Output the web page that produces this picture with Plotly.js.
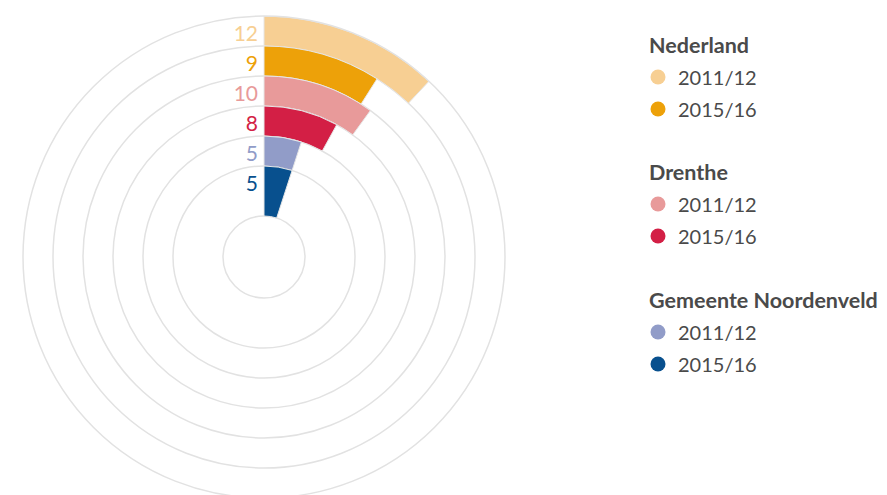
<!DOCTYPE html>
<html><head><meta charset="utf-8">
<script src="https://cdn.plot.ly/plotly-3.0.1.min.js"></script>
<style>html,body{margin:0;padding:0;overflow:hidden;background:#fff}#chart{width:887px;height:500px}</style>
</head><body><div id="chart"></div><script>
// ---- data ----
const regions = ['Nederland', 'Drenthe', 'Gemeente Noordenveld'];
const periods = ['2011/12', '2015/16'];
const nederland = [12, 9];
const drenthe = [10, 8];
const noordenveld = [5, 5];
const colorsNederland = ['#F7CF93', '#EDA109'];
const colorsDrenthe = ['#E89A9A', '#D31F45'];
const colorsNoordenveld = ['#919CC8', '#08508E'];

// ---- layout constants ----
const FULL_SCALE = 100;          // value for a full circle
const OUTER = 241, BAND = 30, HOLE = 41;
const FONT = 'Lato, "Open Sans", sans-serif';
const TXT = '#4a4a4a';
const H = 500;
const LEGEND_X = 638, TITLE_X = 647;
const TITLE_Y = [45, 172, 300];       // px from top, group titles
const ITEM_DY = 32;                    // px between legend rows

const groups = [
  {name: regions[0], vals: nederland, cols: colorsNederland},
  {name: regions[1], vals: drenthe, cols: colorsDrenthe},
  {name: regions[2], vals: noordenveld, cols: colorsNoordenveld}
];

const traces = [];
const labelR = [], labelT = [], labelTxt = [], labelCol = [];
const layoutLegends = {};
const annotations = [];
let k = 0;
const nBands = groups.length * periods.length;
groups.forEach((g, gi) => {
  annotations.push({
    xref: 'paper', yref: 'paper', x: TITLE_X / 887, y: 1 - TITLE_Y[gi] / H,
    xanchor: 'left', yanchor: 'middle', showarrow: false,
    text: '<b>' + g.name + '</b>', font: {family: FONT, size: 21.5, color: TXT}
  });
  g.vals.forEach((v, i) => {
    const outer = OUTER - BAND * k;
    const inner = (k === nBands - 1) ? HOLE : outer - BAND;
    const deg = v / FULL_SCALE * 360;
    traces.push({
      type: 'barpolar', r: [outer - inner], base: [inner], theta: [deg / 2], width: [deg],
      marker: {color: g.cols[i], line: {color: '#e6e6e6', width: 1}},
      showlegend: false, hoverinfo: 'skip'
    });
    labelR.push((outer + (outer - BAND)) / 2 - 5);
    labelT.push(0);
    labelTxt.push(String(v));
    labelCol.push(g.cols[i]);
    const lname = k === 0 ? 'legend' : 'legend' + (k + 1);
    traces.push({
      type: 'scatterpolar', mode: 'markers', r: [null], theta: [null],
      name: periods[i], legend: lname,
      marker: {size: 15, color: g.cols[i]}, hoverinfo: 'skip'
    });
    layoutLegends[lname] = {
      x: LEGEND_X / 887, xanchor: 'left', yanchor: 'middle',
      y: 1 - (TITLE_Y[gi] + ITEM_DY * (i + 1)) / H,
      font: {family: FONT, size: 20, color: TXT}, itemclick: false, itemdoubleclick: false,
      bgcolor: 'rgba(0,0,0,0)'
    };
    k++;
  });
});
traces.push({
  type: 'scatterpolar', mode: 'markers+text', r: labelR, theta: labelT, text: labelTxt,
  textposition: 'middle left', textfont: {family: FONT, size: 21, color: labelCol},
  marker: {size: 8, opacity: 0}, showlegend: false, hoverinfo: 'skip'
});

const layout = Object.assign({
  width: 887, height: H,
  margin: {l: 0, r: 0, t: 0, b: 0},
  paper_bgcolor: '#fff',
  showlegend: true,
  font: {family: FONT, color: TXT},
  annotations: annotations,
  polar: {
    domain: {x: [23 / 887, 505 / 887], y: [(H - 257 - OUTER) / H, (H - 257 + OUTER) / H]},
    bgcolor: 'rgba(0,0,0,0)',
    barmode: 'overlay',
    radialaxis: {range: [0, OUTER], tickvals: [HOLE, 91, 121, 151, 181, 211], showticklabels: false,
      ticks: '', showline: false, gridcolor: '#e2e2e2', gridwidth: 1.5},
    angularaxis: {rotation: 90, direction: 'clockwise', showticklabels: false, ticks: '',
      showgrid: false, showline: true, linecolor: '#e2e2e2', linewidth: 1.5}
  }
}, layoutLegends);
Plotly.newPlot('chart', traces, layout, {displayModeBar: false, staticPlot: true});
</script></body></html>
